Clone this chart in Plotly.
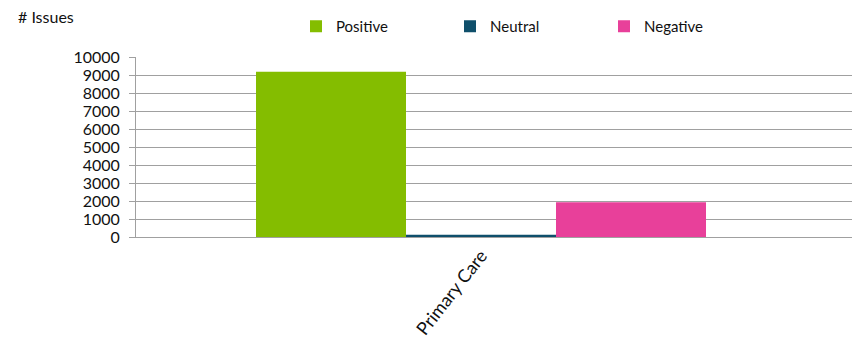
import plotly.graph_objects as go

categories = ["Primary Care"]
series_names = ["Positive", "Neutral", "Negative"]
positive = [9180]
neutral = [120]
negative = [1930]
colors = ["#84bd00", "#0f4f6b", "#e8409a"]
y_ticks = list(range(0, 10001, 1000))

fig = go.Figure()
for name, vals, col in zip(series_names, [positive, neutral, negative], colors):
    fig.add_trace(go.Bar(x=categories, y=vals, name=name, marker=dict(color=col, line=dict(width=0))))

W, H = 852, 353
left, right_px = 136, 852
center_px = 481
pw = right_px - left
a = -(center_px - left) / pw
FONT = "Lato, Open Sans, sans-serif"
fig.update_layout(
    width=W, height=H,
    margin=dict(l=left, r=W - right_px, t=57, b=116, pad=0),
    paper_bgcolor="white", plot_bgcolor="white",
    barmode="group", bargap=1 - 450 / pw, bargroupgap=0,
    font=dict(family=FONT, color="#111111"),
    showlegend=True,
    legend=dict(orientation="h", xref="container", yref="container",
                x=296 / W, y=1 - 10 / H, xanchor="left", yanchor="top",
                entrywidth=109, entrywidthmode="pixels",
                font=dict(size=15, family=FONT),
                itemsizing="constant", bgcolor="rgba(0,0,0,0)"),
    annotations=[dict(text="# Issues", xref="paper", yref="paper", x=-(left - 16) / pw, y=1 + (57 - 17) / 180,
                      xanchor="left", yanchor="middle", showarrow=False,
                      font=dict(size=16, family=FONT))],
)
fig.update_yaxes(range=[0, 10000], tickvals=y_ticks, ticktext=[str(v) for v in y_ticks],
                 showgrid=True, gridcolor="#a0a0a0", gridwidth=1,
                 showline=True, linecolor="#a0a0a0", linewidth=1,
                 ticks="outside", ticklen=6, tickcolor="#a0a0a0",
                 ticklabelstandoff=6,
                 tickfont=dict(size=16, family=FONT, color="#111111"),
                 zeroline=False, fixedrange=True)
fig.update_xaxes(range=[a, a + 1], showline=True, linecolor="#a0a0a0", linewidth=1,
                 tickangle=-52, ticks="", ticklabelstandoff=0,
                 tickfont=dict(size=18, family=FONT, color="#111111"),
                 showgrid=False, zeroline=False)

fig.write_html("out.html")
